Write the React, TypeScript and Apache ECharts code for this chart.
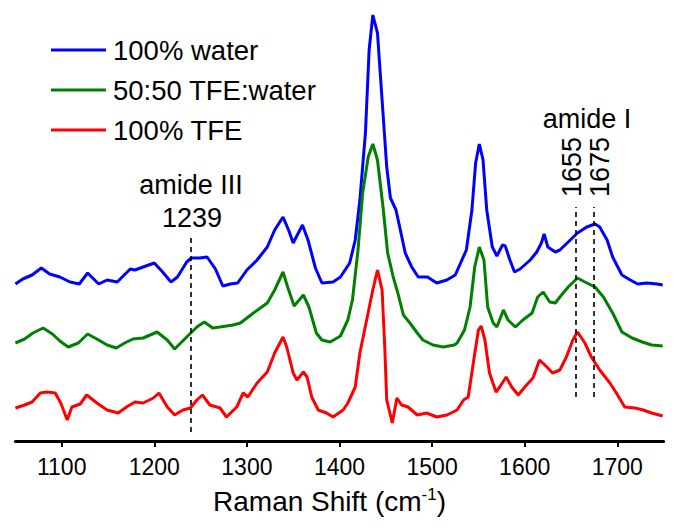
import React, { useEffect, useRef } from "react";
import * as echarts from "echarts";

// Raman shift (cm-1) and relative intensity (a.u.)
const waterShift = [1050,1058,1068,1078,1087,1098,1109,1119,1128,1140,1149,1160,1174,1179,1188,1200,1209,1218,1225,1235,1240,1249,1257,1266,1274,1282,1290,1300,1311,1322,1330,1339,1345,1350,1360,1366,1374,1381,1393,1401,1411,1417,1422,1428,1432,1436,1441,1446,1451,1455,1461,1465,1471,1478,1485,1495,1505,1516,1525,1537,1543,1547,1551,1555,1559,1565,1570,1576,1579,1584,1589,1595,1606,1613,1618,1621,1625,1633,1638,1647,1657,1667,1676,1681,1689,1695,1705,1714,1722,1732,1743,1749];
const waterInt = [2,7,11,18,12,9,4,2,13,2,6,4,17,16,19,23,14,4,9,24,28,28,29,17,0,2,3,16,26,39,56,69,56,43,61,46,18,3,4,9,23,46,86,153,236,271,253,186,119,88,76,59,33,19,9,9,3,6,11,36,76,123,142,126,76,39,30,41,40,26,14,17,26,34,43,52,39,34,36,44,53,59,62,59,46,29,11,6,2,3,2,1];

const mixShift = [1050,1060,1069,1080,1090,1098,1107,1118,1128,1138,1149,1159,1168,1177,1188,1203,1214,1222,1235,1246,1254,1263,1271,1285,1293,1307,1322,1330,1339,1344,1351,1361,1367,1375,1381,1390,1401,1409,1414,1420,1425,1431,1436,1441,1447,1452,1458,1463,1469,1476,1484,1490,1501,1512,1524,1527,1535,1541,1546,1551,1556,1560,1566,1570,1577,1582,1590,1598,1608,1614,1620,1627,1633,1638,1647,1657,1665,1676,1685,1695,1705,1716,1727,1737,1749];
const mixInt = [8,12,18,23,17,10,4,8,17,12,6,3,8,12,13,19,11,2,14,24,29,23,24,26,28,38,48,61,79,64,45,56,44,18,11,9,15,31,51,101,158,194,207,191,144,98,74,58,36,28,18,11,6,4,6,8,21,44,84,104,91,44,28,24,41,31,24,31,38,54,59,49,48,54,64,73,69,64,54,38,19,13,9,6,5];

const tfeShift = [1050,1060,1068,1077,1084,1093,1099,1106,1111,1120,1127,1138,1149,1161,1170,1179,1188,1199,1205,1214,1222,1231,1239,1246,1252,1260,1271,1278,1289,1296,1301,1311,1322,1330,1339,1343,1350,1354,1361,1365,1370,1377,1386,1393,1404,1409,1417,1422,1430,1436,1441,1446,1449,1451,1457,1462,1467,1474,1484,1494,1505,1516,1527,1534,1539,1545,1550,1553,1557,1562,1569,1573,1580,1586,1593,1602,1609,1616,1624,1630,1638,1645,1652,1657,1665,1672,1681,1692,1699,1708,1719,1728,1737,1749];
const tfeInt = [13,16,19,28,29,28,18,1,14,17,26,18,11,8,14,19,18,23,28,14,6,11,13,21,26,16,13,4,14,28,24,38,49,68,84,74,48,41,49,44,24,11,8,4,11,18,34,68,104,131,151,131,71,21,-2,23,16,14,6,8,4,6,11,21,24,61,91,95,81,48,29,34,44,34,26,36,43,61,54,48,51,64,81,89,78,64,51,38,28,14,13,11,8,5];

// vertical stacking offsets of the three spectra
const seriesNames = ["100% water", "50:50 TFE:water", "100% TFE"];
const seriesOffsets = [155, 90, 20];
const seriesColors = ["#0000ff", "#008000", "#ff0000"];

const xTicks = [1100, 1200, 1300, 1400, 1500, 1600, 1700];

// annotation marker lines: [shift, yFrom, yTo]
const markers = [
  [1239, 9, 203],
  [1655, 44, 234],
  [1675, 44, 234],
];

const FONT = "Liberation Sans, Arial, Helvetica, sans-serif";

export default function App() {
  const ref = useRef<HTMLDivElement>(null);
  useEffect(() => {
    if (!ref.current) return;
    const chart = echarts.init(ref.current, null, { renderer: "svg" });
    const shifts = [waterShift, mixShift, tfeShift];
    const ints = [waterInt, mixInt, tfeInt];
    const series: any[] = seriesNames.map((name, i) => ({
      name,
      type: "line",
      data: shifts[i].map((x, j) => [x, ints[i][j] + seriesOffsets[i]]),
      showSymbol: false,
      symbol: "none",
      lineStyle: { color: seriesColors[i], width: 3 },
      itemStyle: { color: seriesColors[i] },
      z: 3,
    }));
    series[2].markLine = {
      silent: true,
      symbol: "none",
      label: { show: false },
      lineStyle: { color: "#000", type: [5, 4], width: 1.6 },
      data: markers.map((m) => [{ coord: [m[0], m[1]] }, { coord: [m[0], m[2]] }]),
    };
    const txt = (text: string, x: number, y: number, rot = 0) => ({
      type: "text",
      x,
      y,
      rotation: rot,
      style: { text, fontSize: 27, fontFamily: FONT, fill: "#000", align: "center", verticalAlign: "middle" },
    });
    chart.setOption({
      animation: false,
      backgroundColor: "#fff",
      grid: { left: 15.4, right: 15.4, top: 0, bottom: 89 },
      legend: {
        data: seriesNames,
        orient: "vertical",
        left: 46,
        top: 31,
        itemWidth: 55,
        itemHeight: 3,
        itemGap: 12,
        icon: "rect",
        textStyle: {
          fontSize: 27.5,
          lineHeight: 27,
          color: "#000",
          fontFamily: FONT,
          padding: [0, 0, 0, 2],
        },
      },
      xAxis: {
        type: "value",
        min: 1050,
        max: 1750,
        splitLine: { show: false },
        axisLine: { show: true, onZero: false, lineStyle: { color: "#000", width: 3 } },
        axisTick: { show: true, length: 6, lineStyle: { color: "#000", width: 2 }, customValues: xTicks },
        axisLabel: {
          fontSize: 23,
          color: "#000",
          fontFamily: FONT,
          margin: 14,
          customValues: xTicks,
          formatter: (v: number) => String(v),
        },
        name: "{a|Raman Shift (cm}{s|-1}{a|)}",
        nameLocation: "middle",
        nameGap: 45,
        nameTextStyle: {
          padding: [0, 20, 0, 0],
          rich: {
            a: { fontSize: 28, color: "#000", fontFamily: FONT, lineHeight: 30 },
            s: { fontSize: 17, color: "#000", fontFamily: FONT, verticalAlign: "top", lineHeight: 17 },
          },
        },
      },
      yAxis: { type: "value", min: 0, max: 441, show: false, splitLine: { show: false } },
      series,
      graphic: [
        txt("amide III", 191, 185),
        txt("1239", 192, 218),
        txt("amide I", 587, 119),
        txt("1655", 572, 167, Math.PI / 2),
        txt("1675", 600, 167, Math.PI / 2),
      ],
    });
    return () => chart.dispose();
  }, []);
  return <div ref={ref} style={{ position: "absolute", left: 0, top: 0, width: 679, height: 530 }} />;
}
